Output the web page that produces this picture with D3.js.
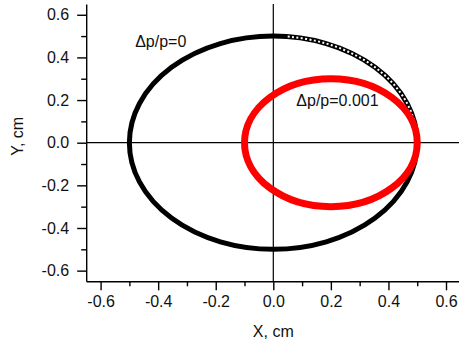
<!DOCTYPE html>
<html>
<head>
<meta charset="utf-8">
<script src="https://cdn.jsdelivr.net/npm/d3@7"></script>
<style>
  html, body { margin: 0; padding: 0; background: #fff; }
  svg { display: block; font-family: "Liberation Sans", Arial, sans-serif; }
</style>
</head>
<body>
<svg class="chart"></svg>
<script>
(function () {
    'use strict';

    /* Data */

    var series = ['Δp/p=0', 'Δp/p=0.001'],
        centerX = [0, 0.2],
        centerY = [0, 0],
        radiusX = [0.5, 0.3],
        radiusY = [0.5, 0.3];

    var xTicks = [-0.6, -0.4, -0.2, 0.0, 0.2, 0.4, 0.6],
        yTicks = [-0.6, -0.4, -0.2, 0.0, 0.2, 0.4, 0.6],
        tickLabels = ['-0.6', '-0.4', '-0.2', '0.0', '0.2', '0.4', '0.6'],
        minorTicks = [-0.5, -0.3, -0.1, 0.1, 0.3, 0.5];

    var labelAt = [[-0.48, 0.45], [0.08, 0.17]];   // annotation anchors (data units)

    /* Setup SVG */

    var width = 459, height = 342;

    var svg = d3.select('.chart')
        .attr('width', width)
        .attr('height', height);

    var x = d3.scaleLinear().domain([-0.65, 0.65]).range([86.2, 460.4]),
        y = d3.scaleLinear().domain([-0.65, 0.65]).range([281.3, 4.1]);

    function label(d, i) { return tickLabels[i]; }

    /* Axes */

    var gx = svg.append('g').attr('transform', 'translate(0,' + y(-0.65) + ')');
    gx.call(d3.axisBottom(x).tickValues(xTicks).tickFormat(label).tickSize(9).tickSizeOuter(0).tickPadding(5));
    gx.append('g').call(d3.axisBottom(x).tickValues(minorTicks).tickFormat('').tickSize(5).tickSizeOuter(0))
        .select('.domain').remove();

    var gy = svg.append('g').attr('transform', 'translate(' + x(-0.65) + ',0)');
    gy.call(d3.axisLeft(y).tickValues(yTicks).tickFormat(label).tickSize(9).tickSizeOuter(0).tickPadding(8));
    gy.append('g').call(d3.axisLeft(y).tickValues(minorTicks).tickFormat('').tickSize(5).tickSizeOuter(0))
        .select('.domain').remove();

    svg.selectAll('.domain, .tick line').attr('stroke', '#000').attr('stroke-width', 1.4);
    svg.selectAll('.tick text').attr('font-size', 16).attr('font-family', '"Liberation Sans", Arial, sans-serif').attr('fill', '#111');

    /* Cross hair */

    svg.append('line')
        .attr('x1', x(0)).attr('x2', x(0))
        .attr('y1', y(0.65)).attr('y2', y(-0.65))
        .attr('stroke', '#000').attr('stroke-width', 1.2);
    svg.append('line')
        .attr('x1', x(-0.65)).attr('x2', width)
        .attr('y1', y(0)).attr('y2', y(0))
        .attr('stroke', '#000').attr('stroke-width', 1.2);

    /* Trajectories */

    var colors = ['#000', '#ff0000'],
        widths = [5, 7];

    svg.selectAll('ellipse.orbit')
        .data(series)
        .enter().append('ellipse')
        .attr('class', 'orbit')
        .attr('cx', function (d, i) { return x(centerX[i]); })
        .attr('cy', function (d, i) { return y(centerY[i]); })
        .attr('rx', function (d, i) { return x(radiusX[i]) - x(0); })
        .attr('ry', function (d, i) { return y(0) - y(radiusY[i]); })
        .attr('fill', 'none')
        .attr('stroke', function (d, i) { return colors[i]; })
        .attr('stroke-width', function (d, i) { return widths[i]; });

    /* open-circle markers show on the sparse upper right arc of the first orbit */
    var rx0 = x(radiusX[0]) - x(0), ry0 = y(0) - y(radiusY[0]);
    svg.append('path')
        .attr('d', 'M' + x(centerX[0] + 0.05) + ',' + (y(centerY[0]) - ry0 * Math.sqrt(1 - 0.01)) +
            ' A' + rx0 + ',' + ry0 + ' 0 0 1 ' + x(centerX[0] + radiusX[0]) + ',' + y(centerY[0]))
        .attr('fill', 'none')
        .attr('stroke', '#fff')
        .attr('stroke-width', 2)
        .attr('stroke-dasharray', '2 2.4');

    // keep red on top
    svg.selectAll('ellipse.orbit').filter(function (d, i) { return i === 1; }).raise();

    /* Labels */

    svg.selectAll('text.note')
        .data(series)
        .enter().append('text')
        .attr('class', 'note')
        .attr('x', function (d, i) { return x(labelAt[i][0]); })
        .attr('y', function (d, i) { return y(labelAt[i][1]); })
        .attr('font-size', 16)
        .attr('fill', '#111')
        .text(function (d) { return d; });

    svg.append('text')
        .attr('x', x(0)).attr('y', 337)
        .attr('text-anchor', 'middle')
        .attr('font-size', 16).attr('fill', '#111')
        .text('X, cm');

    svg.append('text')
        .attr('transform', 'translate(23,' + y(0.03) + ') rotate(-90)')
        .attr('text-anchor', 'middle')
        .attr('font-size', 16).attr('fill', '#111')
        .text('Y, cm');

})();
</script>
</body>
</html>
